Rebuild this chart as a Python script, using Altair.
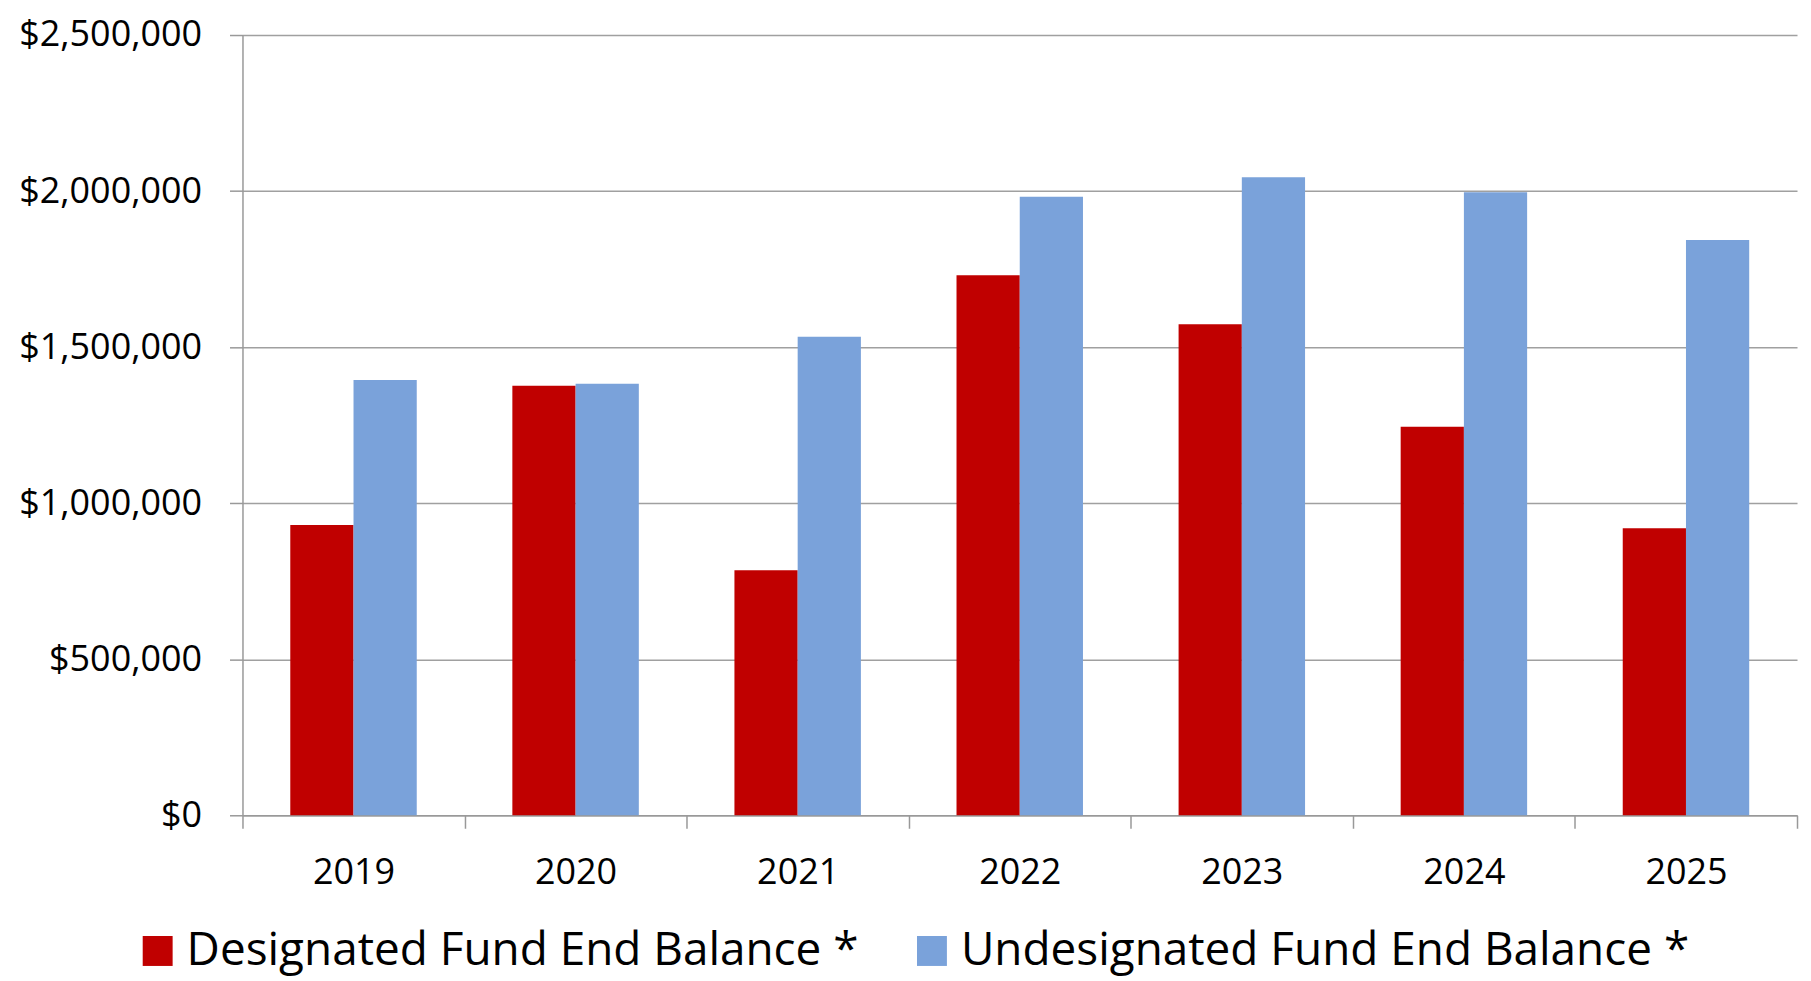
import altair as alt
import pandas as pd

years = ["2019", "2020", "2021", "2022", "2023", "2024", "2025"]
designated = [930000, 1376000, 785000, 1730000, 1573000, 1245000, 920000]
undesignated = [1395000, 1383000, 1533000, 1982000, 2044000, 1996000, 1843000]
series = ["Designated Fund End Balance *", "Undesignated Fund End Balance *"]
colors = ["#c00000", "#7aa2da"]
y_ticks = [0, 500000, 1000000, 1500000, 2000000, 2500000]

rows = []
for i, yr in enumerate(years):
    rows.append({"year": yr, "series": series[0], "value": designated[i]})
    rows.append({"year": yr, "series": series[1], "value": undesignated[i]})
df = pd.DataFrame(rows)

FONT = "Open Sans"

chart = alt.Chart(df).mark_bar().encode(
    x=alt.X("year:N", sort=years,
            scale=alt.Scale(paddingInner=0, paddingOuter=0),
            axis=alt.Axis(title=None, labelAngle=0, tickBand="extent",
                          labelFontSize=36, labelFont=FONT, labelColor="black",
                          labelPadding=27, tickSize=13, tickColor="#999999",
                          domainColor="#999999", domainWidth=1.5, tickWidth=1.5,
                          grid=False)),
    xOffset=alt.XOffset("series:N", sort=series,
                        scale=alt.Scale(paddingInner=0, paddingOuter=0.756)),
    y=alt.Y("value:Q",
            scale=alt.Scale(domain=[0, 2500000], nice=False),
            axis=alt.Axis(title=None, values=y_ticks, format="$,.0f",
                          labelFontSize=36, labelFont=FONT, labelColor="black",
                          labelLimit=400,
                          labelPadding=28, tickSize=13, tickColor="#999999",
                          tickWidth=1.5, domainColor="#999999", domainWidth=1.5,
                          grid=True, gridColor="#a0a0a0", gridWidth=1.5)),
    color=alt.Color("series:N", sort=series,
                    scale=alt.Scale(domain=series, range=colors),
                    legend=alt.Legend(title=None, orient="none", direction="horizontal",
                                      legendX=-108, legendY=895,
                                      labelFont=FONT, labelFontSize=46, labelColor="black",
                                      symbolType="square", symbolSize=900,
                                      symbolStrokeWidth=0, labelOffset=6,
                                      columnPadding=50, labelLimit=1000)),
).properties(
    width=1558, height=782, padding={"left": 10, "top": 8, "right": 5, "bottom": 5}
).configure_view(stroke=None)

chart.save("out.html", embed_options={"renderer": "svg", "actions": False})
